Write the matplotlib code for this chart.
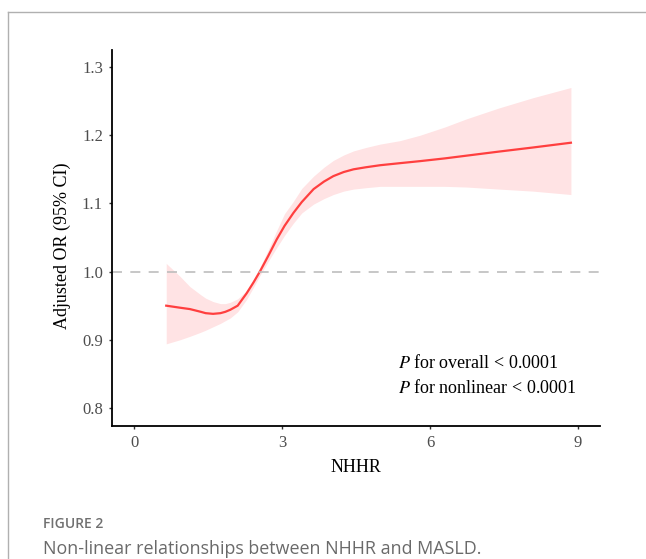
import matplotlib
matplotlib.use("Agg")
import matplotlib.pyplot as plt
from matplotlib.lines import Line2D

# values
nhhr = [0.65, 0.93, 1.13, 1.35, 1.45, 1.60, 1.75, 1.85, 1.95, 2.10, 2.28, 2.42,
        2.55, 2.72, 2.89, 3.05, 3.23, 3.40, 3.64, 3.85, 4.04, 4.25, 4.45, 4.70,
        4.99, 5.39, 5.80, 6.30, 6.74, 7.40, 8.09, 8.86]
odds = [0.950, 0.947, 0.945, 0.941, 0.939, 0.938, 0.939, 0.941, 0.944, 0.950,
        0.968, 0.984, 1.000, 1.023, 1.047, 1.067, 1.086, 1.102, 1.121, 1.132,
        1.140, 1.146, 1.150, 1.153, 1.156, 1.159, 1.162, 1.166, 1.170, 1.176,
        1.182, 1.189]
upper = [1.012, 0.993, 0.978, 0.966, 0.961, 0.956, 0.953, 0.953, 0.955, 0.960,
         0.972, 0.988, 1.006, 1.032, 1.060, 1.085, 1.103, 1.122, 1.140, 1.153,
         1.163, 1.171, 1.177, 1.182, 1.187, 1.192, 1.200, 1.212, 1.224, 1.240,
         1.255, 1.270]
lower = [0.894, 0.900, 0.905, 0.911, 0.914, 0.919, 0.924, 0.928, 0.932, 0.941,
         0.959, 0.977, 0.994, 1.015, 1.035, 1.053, 1.071, 1.086, 1.099, 1.107,
         1.113, 1.118, 1.121, 1.123, 1.125, 1.125, 1.125, 1.125, 1.124, 1.121,
         1.118, 1.113]

x_ticks = [0, 3, 6, 9]
y_ticks = [0.8, 0.9, 1.0, 1.1, 1.2, 1.3]

plt.rcParams["font.family"] = ["Liberation Serif", "DejaVu Serif"]
plt.rcParams["mathtext.fontset"] = "stix"

fig = plt.figure(figsize=(6.46, 5.59), dpi=100)
ax = fig.add_axes([112 / 646, 133 / 559, 488 / 646, 376 / 559])

ax.fill_between(nhhr, lower, upper, color="#ffe3e4", linewidth=0)
ax.plot(nhhr, odds, color="#ff3f3f", linewidth=1.6)
ax.axhline(1.0, color="#bdbdbd", linewidth=1.2, linestyle=(0, (6, 5)))

ax.set_xlim(-0.45, 9.45)
ax.set_ylim(0.7735, 1.325)
ax.set_xticks(x_ticks)
ax.set_yticks(y_ticks)
ax.set_xticklabels([str(t) for t in x_ticks])
ax.set_yticklabels([f"{t:.1f}" for t in y_ticks])

for side in ["top", "right"]:
    ax.spines[side].set_visible(False)
for side in ["left", "bottom"]:
    ax.spines[side].set_linewidth(1.3)
ax.tick_params(length=2.5, width=1, color="#333333", labelcolor="#4d4d4d",
               labelsize=12, pad=4)

ax.set_xlabel("NHHR", fontsize=13, color="black", labelpad=6)
ax.set_ylabel("Adjusted OR (95% CI)", fontsize=13, color="black", labelpad=8)
ax.yaxis.set_label_coords(-0.085, 0.48)

ax.text(5.35, 0.866, r"$\it{P}$ for overall < 0.0001", fontsize=13,
        va="center", ha="left")
ax.text(5.35, 0.829, r"$\it{P}$ for nonlinear < 0.0001", fontsize=13,
        va="center", ha="left")

# caption and frame of the figure page
fig.text(43 / 646, 1 - 524 / 559, "FIGURE 2", fontsize=10, color="#707070",
         family="Open Sans", fontweight="semibold", va="center", ha="left")
fig.text(43 / 646, 1 - 549 / 559, "Non-linear relationships between NHHR and MASLD.",
         fontsize=12.9, color="#6a6a6a", family="Open Sans", va="center", ha="left")

fig.add_artist(Line2D([8 / 646, 1], [1 - 12 / 559, 1 - 12 / 559],
                      transform=fig.transFigure, color="#b0b0b0", linewidth=1))
fig.add_artist(Line2D([8 / 646, 8 / 646], [0, 1 - 12 / 559],
                      transform=fig.transFigure, color="#b0b0b0", linewidth=1))

fig.savefig("out.png", dpi=100)
